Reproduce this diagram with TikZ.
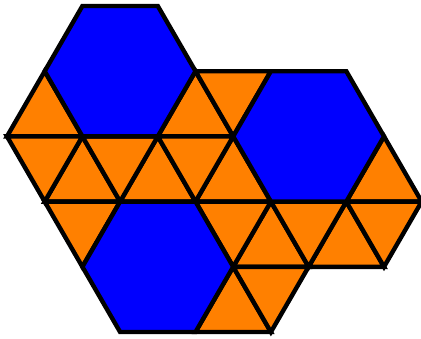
\documentclass[tikz,border=0pt]{standalone}
\usepackage{tikz}
\definecolor{tileorange}{RGB}{255,128,0}
\definecolor{tileblue}{RGB}{0,0,255}

\begin{document}
\begin{tikzpicture}[
    x=37.7pt, y=-65.2pt,
    edge/.style={draw=black,line width=4.4pt,line join=miter},
    hexa/.style={edge,fill=tileblue},
    tri/.style={edge,fill=tileorange}
]
\useasboundingbox (-7pt,6pt) rectangle (414pt,-332pt);

% triangles pointing up (apex column, apex row)
\foreach \i/\r in {1/1,5/1,2/2,4/2,6/2,10/2,7/3,9/3,6/4}
  \draw[tri] (\i,\r) -- (\i+1,\r+1) -- (\i-1,\r+1) -- cycle;

% triangles pointing down (apex column, apex row)
\foreach \i/\r in {6/2,1/3,3/3,5/3,2/4,6/4,8/4,10/4,7/5}
  \draw[tri] (\i,\r) -- (\i-1,\r-1) -- (\i+1,\r-1) -- cycle;

% hexagons (centre column, centre row)
\foreach \i/\r/\name in {3/1/hexA,8/2/hexB,4/4/hexC}{
  \coordinate (\name) at (\i,\r);
  \draw[hexa] (\i-1,\r-1) -- (\i+1,\r-1) -- (\i+2,\r) -- (\i+1,\r+1)
              -- (\i-1,\r+1) -- (\i-2,\r) -- cycle;
}
\end{tikzpicture}
\end{document}
